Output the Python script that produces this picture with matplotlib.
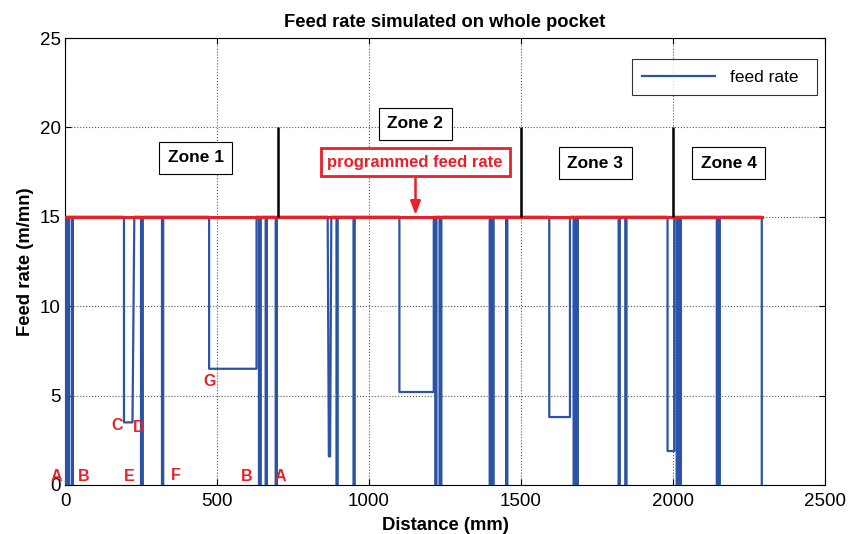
import matplotlib
matplotlib.use("Agg")
import matplotlib.pyplot as plt

plt.rcParams["font.family"] = ["Liberation Sans", "DejaVu Sans"]

# simulated feed rate, vertices of the step trace (mm, m/mn)
dist = [0, 4, 4, 6, 6, 12, 12, 14, 14, 24, 24, 26, 26,
        194, 194, 222, 228,
        250, 250, 256, 256, 319, 319, 323, 323,
        474, 474, 630, 630, 638, 638, 644, 644,
        660, 660, 664, 664, 693, 693, 697, 697,
        864, 868, 872, 876, 893, 893, 897, 897, 949, 949, 953, 953,
        1100, 1100, 1213, 1213, 1218, 1218, 1222, 1222, 1232, 1232, 1238, 1238,
        1397, 1397, 1401, 1401, 1405, 1405, 1410, 1410, 1451, 1451, 1455, 1455,
        1593, 1593, 1661, 1661, 1673, 1673, 1677, 1677, 1683, 1683, 1687, 1687,
        1821, 1821, 1825, 1825, 1843, 1843, 1847, 1847,
        1982, 1982, 2004, 2004, 2012, 2012, 2016, 2016, 2020, 2020, 2026, 2026,
        2144, 2144, 2148, 2148, 2150, 2150, 2154, 2154, 2292, 2292]
feed = [15, 15, 0, 0, 15, 15, 0, 0, 15, 15, 0, 0, 15,
        15, 3.5, 3.5, 15,
        15, 0, 0, 15, 15, 0, 0, 15,
        15, 6.5, 6.5, 15, 15, 0, 0, 15,
        15, 0, 0, 15, 15, 0, 0, 15,
        15, 1.6, 1.6, 15, 15, 0, 0, 15, 15, 0, 0, 15,
        15, 5.2, 5.2, 15, 15, 0, 0, 15, 15, 0, 0, 15,
        15, 0, 0, 15, 15, 0, 0, 15, 15, 0, 0, 15,
        15, 3.8, 3.8, 15, 15, 0, 0, 15, 15, 0, 0, 15,
        15, 0, 0, 15, 15, 0, 0, 15,
        15, 1.9, 1.9, 15, 15, 0, 0, 15, 15, 0, 0, 15,
        15, 0, 0, 15, 15, 0, 0, 15, 15, 0]

prog_x = [0, 2294]
prog_y = [15, 15]

zone_bounds = [700, 1500, 2000]
zone_names = ["Zone 1", "Zone 2", "Zone 3", "Zone 4"]
zone_x = [430, 1152, 1744, 2183]
zone_y = [18.3, 20.2, 18.0, 18.0]

pt_labels = ["A", "B", "E", "F", "B", "A", "C", "D", "G"]
pt_x = [-27, 63, 211, 365, 599, 708, 170, 244, 474]
pt_y = [0.5, 0.5, 0.5, 0.55, 0.5, 0.45, 3.3, 3.2, 5.8]

BLUE = "#2b53a6"
RED = "#e8202a"

fig = plt.figure(figsize=(8.61, 5.34), dpi=100)
ax = fig.add_axes([0.0755, 0.0918, 0.8827, 0.837])

ax.plot(dist, feed, color=BLUE, lw=1.6, label="feed rate", zorder=3)
ax.plot(prog_x, prog_y, color=RED, lw=2.2, zorder=4)
ax.vlines(zone_bounds, 15, 20, color="black", lw=1.8, zorder=4)

for name, x, y in zip(zone_names, zone_x, zone_y):
    ax.text(x, y, name, fontsize=12.5, fontweight="bold", ha="center", va="center",
            bbox=dict(boxstyle="square,pad=0.5", fc="white", ec="black", lw=0.8),
            zorder=5)

for s, x, y in zip(pt_labels, pt_x, pt_y):
    ax.text(x, y, s, color=RED, fontsize=11.5, fontweight="bold",
            ha="center", va="center", zorder=6)

ax.text(1152, 18.05, "programmed feed rate", color=RED, fontsize=12,
        fontweight="bold", ha="center", va="center", zorder=5,
        bbox=dict(boxstyle="square,pad=0.4", fc="white", ec=RED, lw=2))
ax.annotate("", xy=(1153, 14.95), xytext=(1153, 17.3),
            arrowprops=dict(arrowstyle="-|>,head_length=0.8,head_width=0.3",
                            color=RED, lw=1.8), zorder=5)

ax.set_xlim(0, 2500)
ax.set_ylim(0, 25)
ax.set_xticks(range(0, 2501, 500))
ax.set_yticks(range(0, 26, 5))
ax.tick_params(direction="in", length=4, top=True, right=True, labelsize=13.5)
ax.tick_params(axis="x", pad=6)
ax.tick_params(axis="y", pad=3)
ax.grid(True, linestyle=":", color="0.35", lw=0.8)
ax.set_axisbelow(True)

ax.set_title("Feed rate simulated on whole pocket", fontsize=13.2,
             fontweight="bold", pad=8)
ax.set_xlabel("Distance (mm)", fontsize=13.3, fontweight="bold", labelpad=5)
ax.set_ylabel("Feed rate (m/mn)", fontsize=13.3, fontweight="bold", labelpad=4)

leg = ax.legend(loc="upper left", bbox_to_anchor=(0.746, 0.5, 0.2434, 0.453),
                mode="expand", borderaxespad=0, fancybox=False,
                edgecolor="black", fontsize=12.5, handlelength=4.2,
                handletextpad=0.85, borderpad=0.6)
leg.get_frame().set_linewidth(0.8)

fig.savefig("out.png", dpi=100)
